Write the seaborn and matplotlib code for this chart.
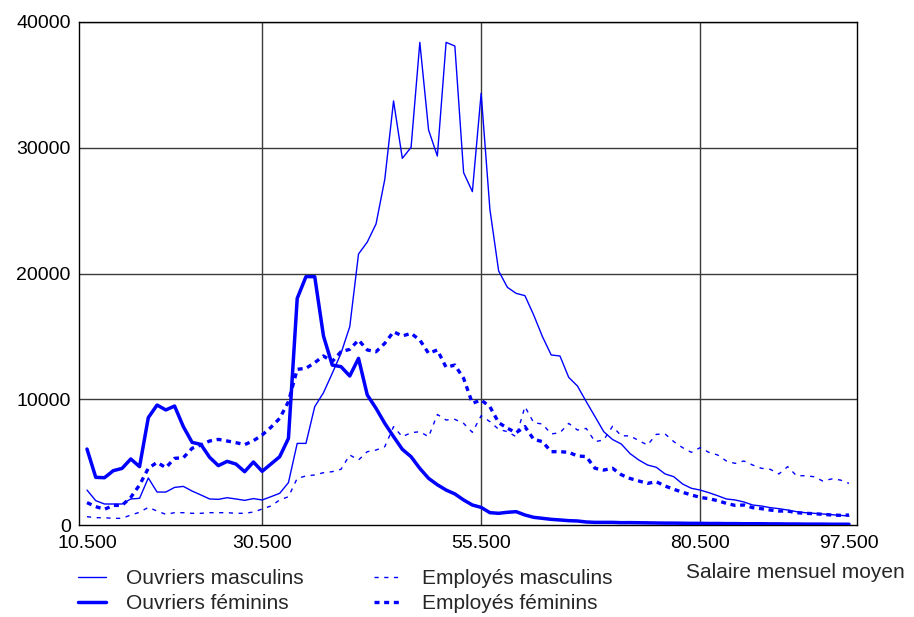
import numpy as np
import pandas as pd
import matplotlib
matplotlib.use("Agg")
import matplotlib.pyplot as plt
import seaborn as sns

# Salary bins (monthly average salary)
salaire = np.arange(10500, 98500, 1000)

ouvriers_masculins = [
    2780, 1935, 1670, 1670, 1670, 2070, 2120, 3740, 2620, 2620, 2990, 3070, 2700, 2390, 2070, 2040, 2170, 2070, 1960, 2100, 1990,
    2250, 2520, 3370, 6490, 6490, 9410, 10520, 12060, 13650, 15770, 21550,
    22500, 23940, 27490, 33720, 29160, 30030, 38380, 31410, 29340, 38380, 38090, 28020, 26510, 34330, 25100, 20200,
    18900, 18420, 18240, 16700, 14980, 13520, 13440, 11740, 11050, 9810, 8620, 7420, 6800, 6440, 5680,
    5170, 4770, 4590, 4060, 3840, 3260, 2920, 2780, 2570, 2330, 2070, 1990, 1830, 1590, 1510, 1380, 1300, 1190, 1060, 980, 930, 875, 820, 770, 715,
]
ouvriers_feminins = [
    6040, 3790, 3760, 4320, 4500, 5250, 4640, 8540, 9540, 9150, 9460, 7820, 6570, 6410, 5380, 4720, 5060, 4850, 4240, 5010, 4270,
    4850, 5430, 6890, 18020, 19750, 19750, 15030, 12720, 12590, 11850, 13250,
    10340, 9280, 8080, 7030, 6020, 5430, 4500, 3710, 3200, 2780, 2470, 1990, 1590, 1400, 980, 930,
    1010, 1060, 795, 610, 530, 450, 400, 345, 320, 240, 210, 210, 210, 185, 190,
    180, 170, 160, 150, 150, 140, 130, 130, 120, 120, 110, 110, 100, 100, 100, 90, 90, 80, 80, 70, 70, 70, 60, 60, 60,
]
employes_masculins = [
    660, 580, 580, 530, 530, 795, 1010, 1405, 1110, 850, 980, 980, 930, 930, 980, 980, 980, 930, 930, 1030, 1270,
    1510, 1990, 2250, 3710, 3900, 3980, 4160, 4240, 4430, 5570, 5170,
    5830, 5960, 6230, 7820, 7020, 7340, 7420, 7020, 8790, 8350, 8400, 8080, 7370, 8690, 8220, 7610,
    7420, 7020, 9410, 8140, 8030, 7240, 7340, 8080, 7550, 7680, 6630, 6760, 7850, 7090, 7090,
    6710, 6360, 7210, 7240, 6630, 6150, 5780, 6150, 5780, 5570, 5090, 4900, 5090, 4770, 4510, 4430, 4060, 4640, 3920, 3920, 3840, 3500, 3660, 3580, 3310,
]
employes_feminins = [
    1780, 1460, 1250, 1560, 1560, 2200, 3180, 4510, 4980, 4560, 5300, 5350, 6100, 6360, 6680, 6810, 6680, 6550, 6390, 6700, 7160,
    7770, 8480, 9810, 12380, 12460, 12910, 13440, 13000, 13780, 13970, 14710,
    13920, 13780, 14450, 15370, 15030, 15240, 14710, 13650, 13920, 12540, 12720, 11660, 9680, 9940, 9410, 8140,
    7690, 7340, 7820, 6810, 6630, 5830, 5830, 5780, 5490, 5440, 4510, 4370, 4510, 4000, 3700,
    3500, 3310, 3440, 3100, 2840, 2600, 2390, 2200, 2090, 1935, 1720, 1560, 1590, 1380, 1300, 1190, 1110, 1110, 980, 930, 900, 850, 795, 770, 795,
]

series_names = ["Ouvriers masculins", "Ouvriers féminins", "Employés masculins", "Employés féminins"]
series_values = [ouvriers_masculins, ouvriers_feminins, employes_masculins, employes_feminins]

xtick_values = [10500, 30500, 55500, 80500, 97500]
xtick_labels = ["10.500", "30.500", "55.500", "80.500", "97.500"]
ytick_values = [0, 10000, 20000, 30000, 40000]

sns.set_style("white")
plt.rcParams["font.family"] = ["Liberation Sans", "DejaVu Sans"]

fig = plt.figure(figsize=(9.14, 6.17), dpi=100)
ax = fig.add_axes([79 / 914, 1 - 525 / 617, (857 - 79) / 914, (525 - 22) / 617])

styles = [
    dict(linewidth=1.0, linestyle="-"),
    dict(linewidth=2.5, linestyle="-"),
    dict(linewidth=1.0, linestyle=(0, (3.0, 4.0))),
    dict(linewidth=2.4, linestyle=(0, (1.5, 1.4))),
]

df = pd.DataFrame({"salaire": salaire})
for name, vals in zip(series_names, series_values):
    df[name] = vals

# grid first (below lines)
for yv in ytick_values[1:]:
    ax.axhline(yv, color="#3a3a3a", linewidth=1.0, zorder=0)
for xv in xtick_values[1:-1]:
    ax.axvline(xv, color="#3a3a3a", linewidth=1.0, zorder=0)

for name, st in zip(series_names, styles):
    sns.lineplot(data=df, x="salaire", y=name, ax=ax, color="#0000ff",
                 label=name, zorder=3, **st)

ax.set_xlim(9587, 98413)
ax.set_ylim(0, 40000)
ax.set_xticks(xtick_values)
ax.set_xticklabels(xtick_labels)
ax.set_yticks(ytick_values)
ax.set_yticklabels([str(v) for v in ytick_values])
ax.tick_params(axis="both", length=0, labelsize=14, colors="black")
ax.tick_params(axis="x", pad=7)
ax.tick_params(axis="y", pad=6)
ax.set_xlabel("")
ax.set_ylabel("")
for sp in ax.spines.values():
    sp.set_visible(True)
    sp.set_color("black")
    sp.set_linewidth(1.0)

handles, labels = ax.get_legend_handles_labels()
ax.get_legend().remove()
fig.legend(handles, labels, loc="upper left", bbox_to_anchor=(78 / 914, 1 - 569 / 617),
           ncol=2, frameon=False, fontsize=15, handlelength=1.35, handletextpad=0.95,
           columnspacing=3.4, labelspacing=0.3, borderaxespad=0, borderpad=0)

fig.text(905 / 914, 1 - 572 / 617, "Salaire mensuel moyen", ha="right", va="center", fontsize=15)

fig.savefig("out.png", dpi=100)
